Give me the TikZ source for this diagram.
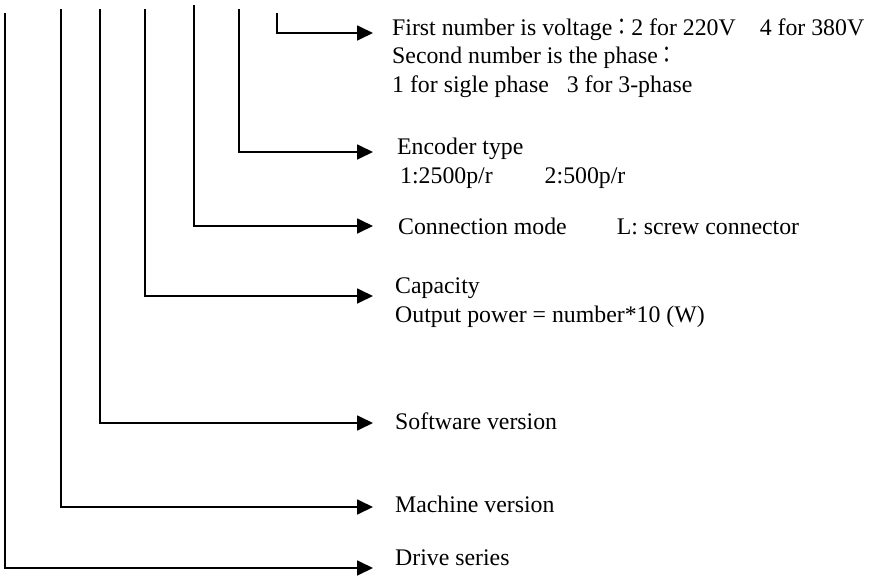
\documentclass[tikz,border=0pt]{standalone}
\usepackage{fontspec}
\usepackage{graphicx}
\setmainfont{Liberation Serif}
\newfontfamily\cjk{Noto Sans CJK TC}
\usetikzlibrary{arrows.meta}
\tikzset{
  lbl/.style={anchor=base west,inner sep=0pt,align=left,font=\fontsize{23.8}{28.5}\selectfont},
  lead/.style={line width=1.8pt,-{Triangle[length=16pt,width=15pt]}}
}
\newcommand{\fwcolon}{\scalebox{0.8}[1]{\cjk ：}}

\begin{document}
\begin{tikzpicture}[x=1pt,y=-1pt]
\useasboundingbox (0,0) rectangle (879,576);
% top ends of the code digits, left to right
\coordinate (c-series) at (5,13);
\coordinate (c-mach) at (61,9);
\coordinate (c-soft) at (100,9);
\coordinate (c-cap) at (145,9);
\coordinate (c-conn) at (194,5);
\coordinate (c-enc) at (239,9);
\coordinate (c-volt) at (277,13);
% arrow ends
\coordinate (e-volt) at (373,33);
\coordinate (e-enc) at (373,152);
\coordinate (e-conn) at (373,226);
\coordinate (e-cap) at (373,296);
\coordinate (e-soft) at (373,423);
\coordinate (e-mach) at (373,507);
\coordinate (e-series) at (373,568);
% meaning of each digit (multi-line nodes sit on their last line)
\node[lbl] (volt) at (392,92) {First number is voltage\fwcolon 2 for 220V\hspace{24pt}4 for 380V\\Second number is the phase\fwcolon\\1 for sigle phase\hspace{18pt}3 for 3-phase};
\node[lbl] (enc) at (397,183) {Encoder type\\\hspace{3pt}1:2500p/r\hspace{52pt}2:500p/r};
\node[lbl] (conn) at (398,234) {Connection mode\hspace{50pt}L: screw connector};
\node[lbl] (cap) at (395,322) {Capacity\\Output power = number*10 (W)};
\node[lbl] (soft) at (395,429) {Software version};
\node[lbl] (mach) at (395,512) {Machine version};
\node[lbl] (series) at (395,565) {Drive series};
% leader lines
\draw[lead] (c-volt) |- (e-volt);
\draw[lead] (c-enc) |- (e-enc);
\draw[lead] (c-conn) |- (e-conn);
\draw[lead] (c-cap) |- (e-cap);
\draw[lead] (c-soft) |- (e-soft);
\draw[lead] (c-mach) |- (e-mach);
\draw[lead] (c-series) |- (e-series);
\end{tikzpicture}
\end{document}
